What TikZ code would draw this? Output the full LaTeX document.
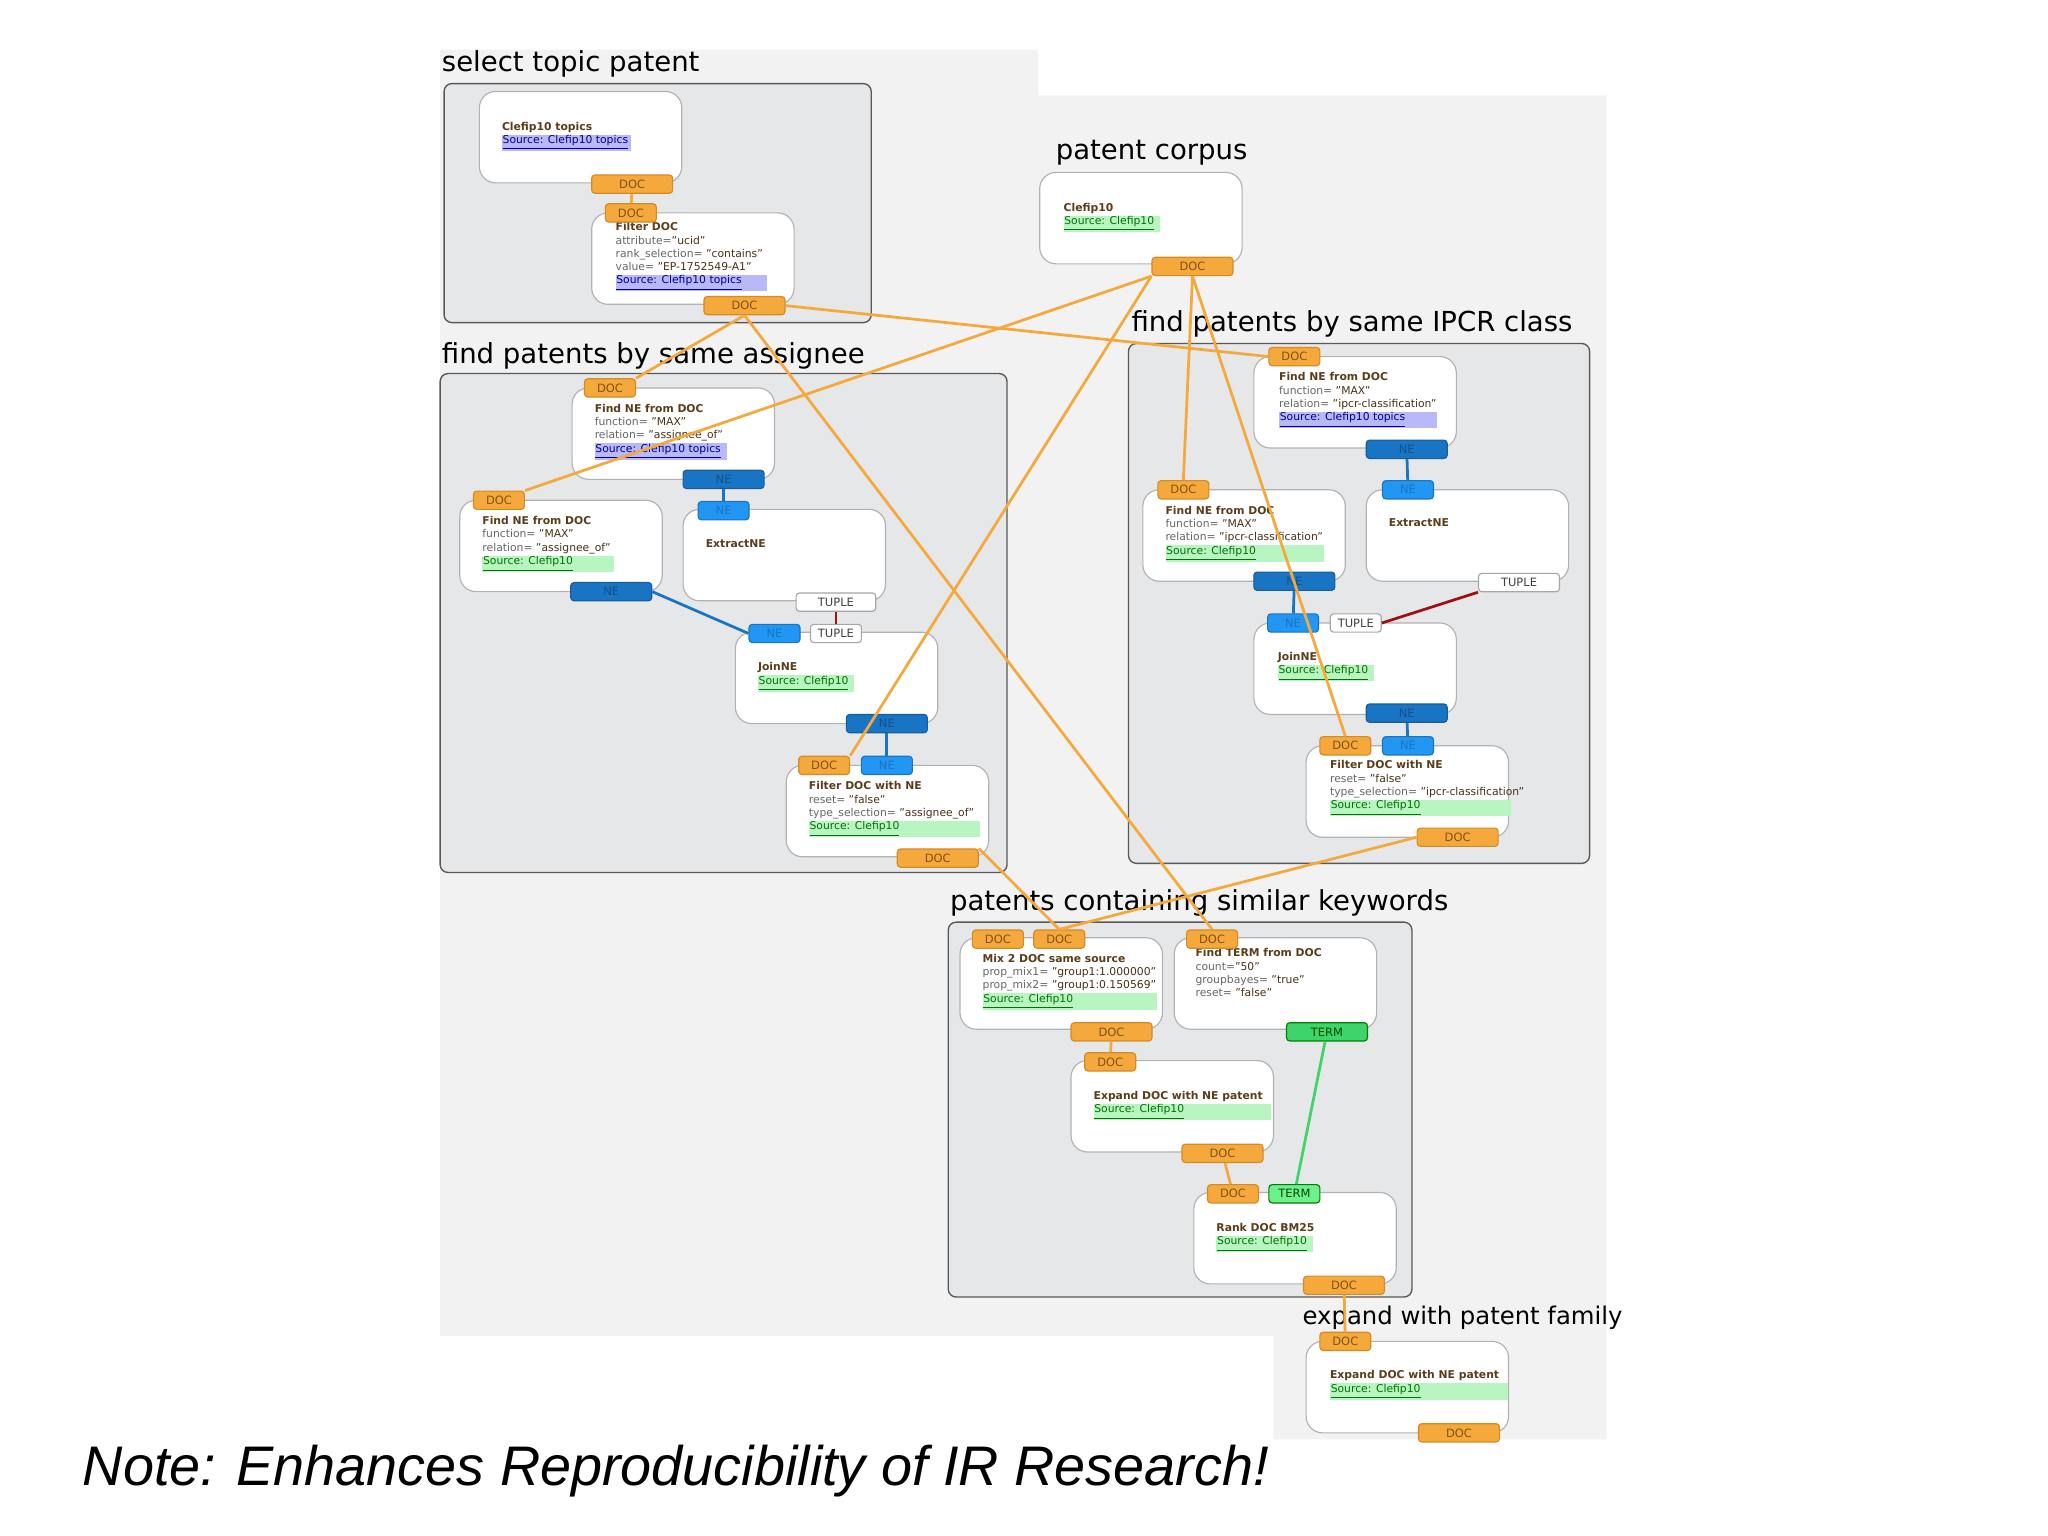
\documentclass[tikz,border=0pt]{standalone}
\usepackage{fontspec}
\setmainfont{DejaVu Sans}
\newfontfamily\notefont{Liberation Sans}
\usepackage{xcolor}
\definecolor{orng}{HTML}{F5A93C}
\definecolor{orngd}{HTML}{D58A22}
\definecolor{dblue}{HTML}{1A74C4}
\definecolor{lblue}{HTML}{2196F3}
\definecolor{tgreen}{HTML}{3ED36B}
\definecolor{lgreen}{HTML}{6EF08C}
\definecolor{srcg}{HTML}{B8F5C0}
\definecolor{srcb}{HTML}{B9B9F8}
\definecolor{ttl}{HTML}{5A3D1A}
\definecolor{grp}{HTML}{E6E7E9}
\definecolor{outer}{HTML}{F2F2F2}
\definecolor{ered}{HTML}{A01010}
\tikzset{x=0.02cm,y=-0.02cm,
 box/.style={draw=gray!60,fill=white,rounded corners=0.25cm,line width=0.5pt,inner sep=0},
 grpbox/.style={draw=gray!70!black,fill=grp,rounded corners=0.12cm,line width=0.6pt},
 gtitle/.style={anchor=base west,inner sep=0,font=\fontsize{12}{14}\selectfont},
 txt/.style={anchor=north west,inner sep=0,align=left,font=\fontsize{4.7}{5.8}\selectfont,text=gray!80!black},
 port/.style={rounded corners=0.05cm,minimum height=0.28cm,inner sep=0,font=\fontsize{5}{5}\selectfont,line width=0.5pt},
 doc/.style={port,fill=orng,draw=orngd,text=orngd!60!black},
 ne/.style={port,fill=lblue,draw=dblue,text=dblue},
 neo/.style={port,fill=dblue,draw=dblue!80!black,text=dblue!70!black},
 tup/.style={port,fill=white,draw=gray!70,text=gray!50!black},
 term/.style={port,fill=tgreen,draw=green!50!black,text=green!30!black},
 termi/.style={port,fill=lgreen,draw=green!50!black,text=green!30!black},
 oe/.style={draw=orng,line width=1.2pt},
 be/.style={draw=dblue,line width=1.2pt},
 re/.style={draw=ered,line width=1.2pt},
 ge/.style={draw=tgreen,line width=1.2pt}}
\newcommand{\bx}[3]{\node[box,minimum width=3.1cm,minimum height=1.4cm] (#1) at ({#2+77.5},{#3+35}) {};}
\newcommand{\prt}[5]{\node[#2,minimum width=#4*0.02cm] (#1) at #3 {#5};}
\newcommand{\T}[1]{{\color{ttl}\bfseries #1}}
\newcommand{\V}[1]{{\color{ttl!80!black}#1}}
\newcommand{\SG}[2]{\colorbox{srcg}{\makebox[#1][l]{\color{green!45!black}\underline{Source: #2}}}}
\newcommand{\SB}[2]{\colorbox{srcb}{\makebox[#1][l]{\color{blue!60!black}\underline{Source: #2}}}}
\setlength{\fboxsep}{0.3pt}
\begin{document}
\begin{tikzpicture}
\useasboundingbox[fill=white] (0,0) rectangle (1568,1176);
\fill[outer] (337,38) -- (795,38) -- (795,73) -- (1230,73) -- (1230,1102) -- (975,1102) -- (975,1023) -- (337,1023) -- cycle;
% groups
\draw[grpbox] (340,64) rectangle (667,247);
\draw[grpbox] (337,286) rectangle (771,668);
\draw[grpbox] (864,263) rectangle (1217,661);
\draw[grpbox] (726,706) rectangle (1081,993);
\node[gtitle] (t1) at (338,55) {select topic patent};
\node[gtitle] (t2) at (808,122) {patent corpus};
\node[gtitle] (t3) at (338,278) {find patents by same assignee};
\node[gtitle] (t4) at (866,254) {find patents by same IPCR class};
\node[gtitle] (t5) at (727,697) {patents containing similar keywords};
\node[gtitle,font=\fontsize{10.6}{13}\selectfont] (t6) at (997,1014) {expand with patent family};
% boxes
\bx{topics}{367}{70}
\bx{filt}{453}{163}
\bx{corp}{796}{132}
\bx{afa}{438}{297}
\bx{afb}{352}{383}
\bx{aex}{523}{390}
\bx{ajn}{563}{484}
\bx{aff}{602}{586}
\bx{ifa}{960}{273}
\bx{ifb}{875}{375}
\bx{iex}{1046}{375}
\bx{ijn}{960}{477}
\bx{iff}{1000}{571}
\bx{mix}{735}{718}
\bx{ftm}{899}{718}
\bx{exp}{820}{812}
\bx{rnk}{914}{913}
\bx{fam}{1000}{1027}
% texts
\node[txt] (x1) at (384,93) {\T{Clefip10 topics}\\\SB{1.95cm}{Clefip10 topics}};
\node[txt] (x2) at (471,170) {\T{Filter DOC}\\attribute=\V{"ucid"}\\rank\_selection= \V{"contains"}\\value= \V{"EP-1752549-A1"}\\\SB{2.3cm}{Clefip10 topics}};
\node[txt] (x3) at (814,155) {\T{Clefip10}\\\SG{1.45cm}{Clefip10}};
\node[txt] (x4) at (455,309) {\T{Find NE from DOC}\\function= \V{"MAX"}\\relation= \V{"assignee\_of"}\\\SB{2.0cm}{Clefip10 topics}};
\node[txt] (x5) at (369,395) {\T{Find NE from DOC}\\function= \V{"MAX"}\\relation= \V{"assignee\_of"}\\\SG{2.0cm}{Clefip10}};
\node[txt] (x6) at (540,413) {\T{ExtractNE}};
\node[txt] (x7) at (580,507) {\T{JoinNE}\\\SG{1.45cm}{Clefip10}};
\node[txt] (x8) at (619,598) {\T{Filter DOC with NE}\\reset= \V{"false"}\\type\_selection= \V{"assignee\_of"}\\\SG{2.6cm}{Clefip10}};
\node[txt] (x9) at (979,285) {\T{Find NE from DOC}\\function= \V{"MAX"}\\relation= \V{"ipcr-classification"}\\\SB{2.4cm}{Clefip10 topics}};
\node[txt] (x10) at (892,387) {\T{Find NE from DOC}\\function= \V{"MAX"}\\relation= \V{"ipcr-classification"}\\\SG{2.4cm}{Clefip10}};
\node[txt] (x11) at (1063,397) {\T{ExtractNE}};
\node[txt] (x12) at (978,499) {\T{JoinNE}\\\SG{1.45cm}{Clefip10}};
\node[txt] (x13) at (1018,582) {\T{Filter DOC with NE}\\reset= \V{"false"}\\type\_selection= \V{"ipcr-classification"}\\\SG{2.75cm}{Clefip10}};
\node[txt] (x14) at (752,730) {\T{Mix 2 DOC same source}\\prop\_mix1= \V{"group1:1.000000"}\\prop\_mix2= \V{"group1:0.150569"}\\\SG{2.65cm}{Clefip10}};
\node[txt] (x15) at (915,726) {\T{Find TERM from DOC}\\count=\V{"50"}\\groupbayes= \V{"true"}\\reset= \V{"false"}};
\node[txt] (x16) at (837,835) {\T{Expand DOC with NE patent}\\\SG{2.7cm}{Clefip10}};
\node[txt] (x17) at (931,936) {\T{Rank DOC BM25}\\\SG{1.45cm}{Clefip10}};
\node[txt] (x18) at (1018,1049) {\T{Expand DOC with NE patent}\\\SG{2.7cm}{Clefip10}};
% ports
\prt{p1}{doc}{(484,141)}{62}{DOC}
\prt{p2}{doc}{(483,163)}{39}{DOC}
\prt{p3}{doc}{(570,234)}{62}{DOC}
\prt{p4}{doc}{(913,204)}{62}{DOC}
\prt{a1}{doc}{(467,297)}{39}{DOC}
\prt{a2}{neo}{(554,367)}{62}{NE}
\prt{a3}{doc}{(382,383)}{39}{DOC}
\prt{a4}{neo}{(468,453)}{62}{NE}
\prt{a5}{ne}{(554,391)}{39}{NE}
\prt{a6}{tup}{(640,461)}{61}{TUPLE}
\prt{a7}{ne}{(593,485)}{39}{NE}
\prt{a8}{tup}{(640,485)}{39}{TUPLE}
\prt{a9}{neo}{(679,554)}{62}{NE}
\prt{a10}{doc}{(631,586)}{39}{DOC}
\prt{a11}{ne}{(679,586)}{39}{NE}
\prt{a12}{doc}{(718,657)}{62}{DOC}
\prt{i1}{doc}{(991,273)}{39}{DOC}
\prt{i2}{neo}{(1077,344)}{62}{NE}
\prt{i3}{doc}{(906,375)}{39}{DOC}
\prt{i4}{neo}{(991,445)}{62}{NE}
\prt{i5}{ne}{(1078,375)}{39}{NE}
\prt{i6}{tup}{(1163,446)}{62}{TUPLE}
\prt{i7}{ne}{(990,477)}{39}{NE}
\prt{i8}{tup}{(1038,477)}{39}{TUPLE}
\prt{i9}{neo}{(1077,546)}{62}{NE}
\prt{i10}{doc}{(1030,571)}{39}{DOC}
\prt{i11}{ne}{(1078,571)}{39}{NE}
\prt{i12}{doc}{(1116,641)}{62}{DOC}
\prt{k1}{doc}{(764,719)}{39}{DOC}
\prt{k2}{doc}{(811,719)}{39}{DOC}
\prt{k3}{doc}{(851,790)}{62}{DOC}
\prt{k4}{doc}{(928,719)}{39}{DOC}
\prt{k5}{term}{(1016,790)}{62}{TERM}
\prt{k6}{doc}{(850,813)}{39}{DOC}
\prt{k7}{doc}{(936,883)}{62}{DOC}
\prt{k8}{doc}{(944,914)}{39}{DOC}
\prt{k9}{termi}{(991,914)}{39}{TERM}
\prt{k10}{doc}{(1029,984)}{62}{DOC}
\prt{f1}{doc}{(1030,1027)}{39}{DOC}
\prt{f2}{doc}{(1117,1097)}{62}{DOC}
% edges
\draw[oe] (p1) -- (p2);
\draw[oe] (p3.south) -- (a1.north east);
\draw[oe] (p3.east) -- (i1.west);
\draw[oe] (p3.south) -- (k4.north);
\draw[oe] (p4.south west) -- (a3.north east);
\draw[oe] (p4.south west) -- (a10.north east);
\draw[oe] (p4.south) -- (i3.north);
\draw[oe] (p4.south) -- (i10.north);
\draw[oe] (a12.north east) -- (k2.north);
\draw[oe] (i12.west) -- (k2.north);
\draw[oe] (k3) -- (k6);
\draw[oe] (k7) -- (k8);
\draw[oe] (k10) -- (f1);
\draw[be] (a2) -- (a5);
\draw[be] (a4.east) -- (a7.west);
\draw[be] (a9) -- (a11);
\draw[re] (a6) -- (a8);
\draw[be] (i2) -- (i5);
\draw[be] (i4) -- (i7);
\draw[be] (i9) -- (i11);
\draw[re] (i6.south west) -- (i8.east);
\draw[ge] (k5) -- (k9);
\node[anchor=base west,inner sep=0,font=\notefont\itshape\fontsize{24.3}{28}\selectfont] (note) at (63,1137) {Note: Enhances Reproducibility of IR Research!};
\end{tikzpicture}
\end{document}
